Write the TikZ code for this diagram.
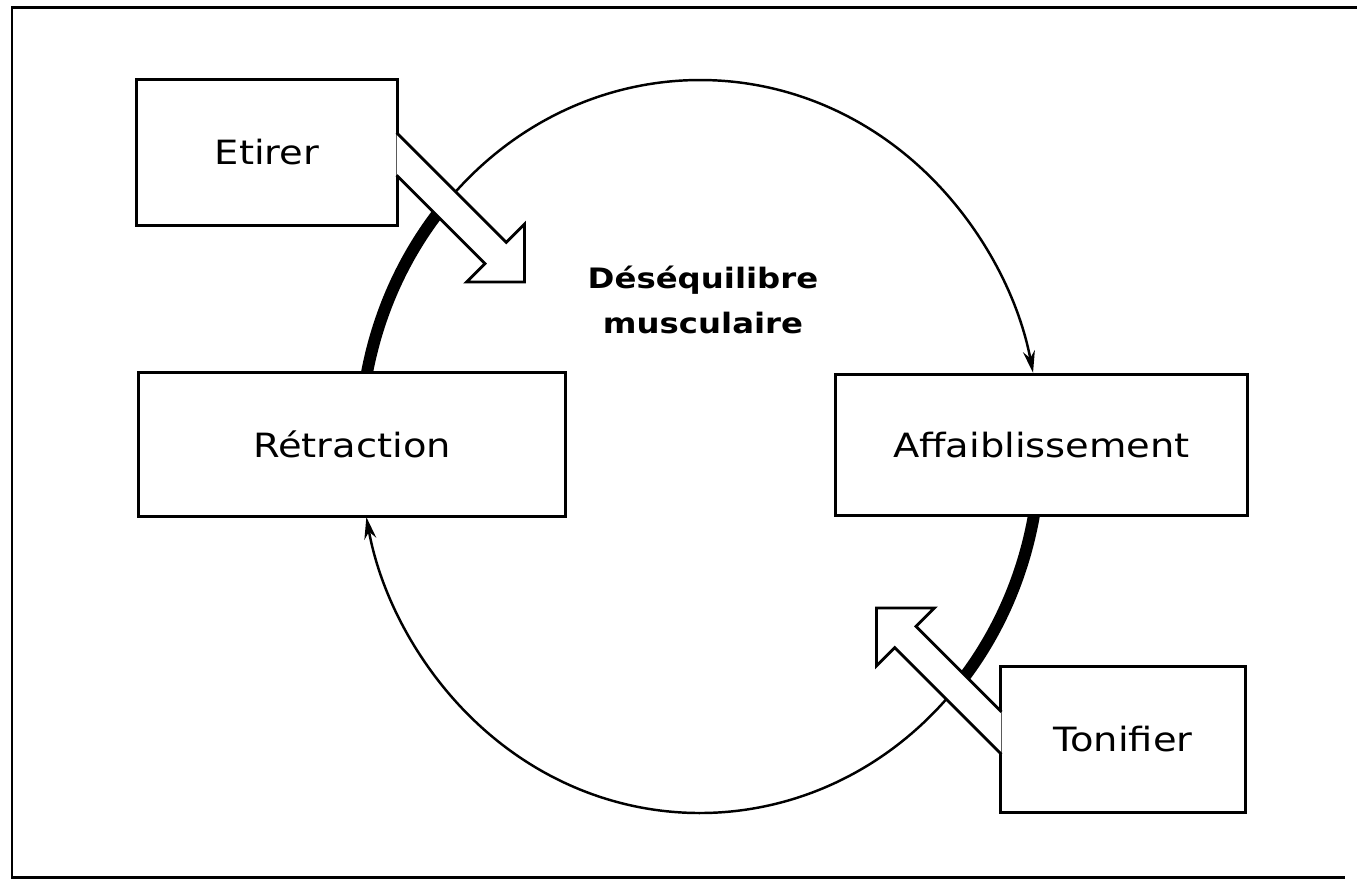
\documentclass[tikz,border=0pt]{standalone}
\usepackage{fontspec}
\setmainfont{DejaVu Sans}[FakeStretch=1.15]
\usetikzlibrary{arrows.meta, calc}
\tikzset{
  stage/.style={
    rectangle,
    align=center,
    draw=black,
    fill=white,
    line width=0.85pt,
    font=\fontsize{9.5}{11}\selectfont
  },
  loopline/.style={line width=0.7pt,-{Stealth[length=0.22cm,width=0.12cm]}},
  heavy/.style={line width=3.4pt},
  hollow/.style={draw=black, fill=white, line width=0.8pt, line join=miter},
  frame/.style={line width=0.85pt}
}
\begin{document}
\begin{tikzpicture}[x=0.01cm, y=-0.01cm]
    \useasboundingbox (0,0) rectangle (1357,881);
    \draw[frame] (1357,7) -- (12,7) -- (12,877) -- (1345,877);
    \coordinate (c) at (700,446.5);
    % the loop
    \draw[heavy] (c) ++(191.7:340 and 366.5) arc[start angle=191.7, end angle=221.5, x radius=340, y radius=366.5];
    \draw[loopline] (c) ++(221.5:340 and 366.5) arc[start angle=221.5, end angle=348.4, x radius=340, y radius=366.5];
    \draw[heavy] (c) ++(10.9:340 and 366.5) arc[start angle=10.9, end angle=41, x radius=340, y radius=366.5];
    \draw[loopline] (c) ++(41:340 and 366.5) arc[start angle=41, end angle=168.9, x radius=340, y radius=366.5];
    % boxes
    \node (etirer) [stage, minimum width=2.6cm, minimum height=1.45cm] at (267,152.5) {Etirer};
    \node (retraction) [stage, minimum width=4.26cm, minimum height=1.43cm] at (352,444.5) {Rétraction};
    \node (affaib) [stage, minimum width=4.11cm, minimum height=1.4cm] at (1041.5,445) {Affaiblissement};
    \node (tonifier) [stage, minimum width=2.44cm, minimum height=1.45cm] at (1123,739.5) {Tonifier};
    \node (imbalance) [align=center, font=\bfseries\fontsize{8}{12.8}\selectfont] at (703,300) {Déséquilibre\\musculaire};
    % hollow arrows
    \draw[hollow, shift={(etirer.east)}] (-2,-19.7) -- (107.6,89.9) -- (126,71.5) -- (126,129.5)
      -- (68,129.5) -- (86.4,111.1) -- (-2,22.7);
    \draw[hollow, shift={(tonifier.west)}] (2,-27.7) -- (-83.4,-113.1) -- (-65,-131.5) -- (-123,-131.5)
      -- (-123,-73.5) -- (-104.6,-91.9) -- (2,14.7);
\end{tikzpicture}
\end{document}
